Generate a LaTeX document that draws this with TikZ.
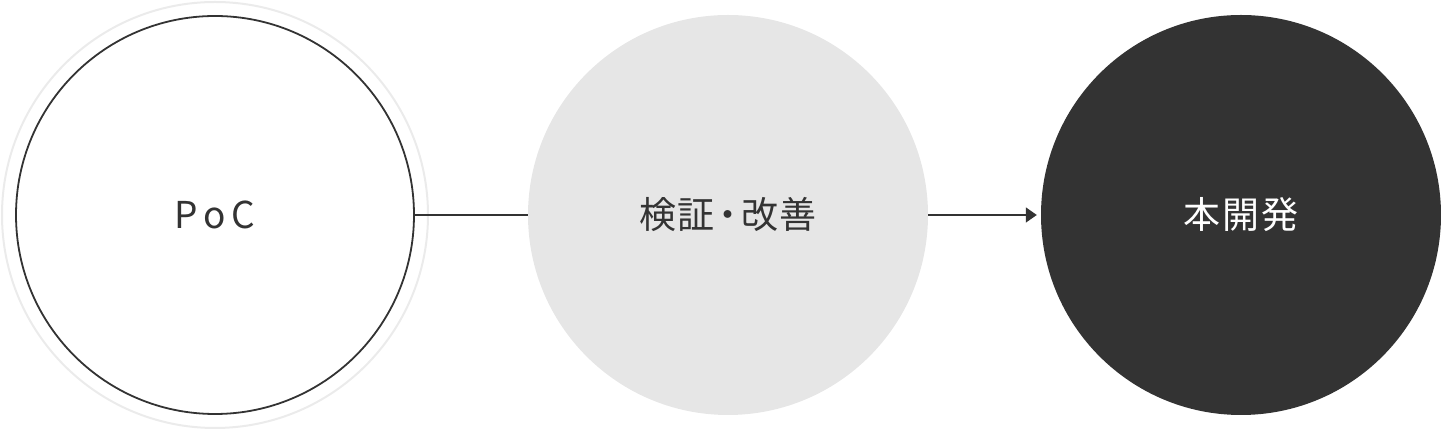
\documentclass[tikz,border=0pt]{standalone}
\usepackage{fontspec}
\setmainfont{Noto Sans CJK JP}
\usetikzlibrary{arrows.meta}
\definecolor{ink}{HTML}{333333}
\definecolor{ringgray}{HTML}{EBEBEB}
\definecolor{fillgray}{HTML}{E6E6E6}
\begin{document}
\begin{tikzpicture}[x=1pt,y=1pt,
  stage/.style={circle,inner sep=0pt,minimum size=400pt,font=\fontsize{37}{44}\selectfont\addfontfeature{LetterSpace=5}},
  link/.style={draw=ink,line width=1.5pt}]
\useasboundingbox (0,0) rectangle (1441,430);
\node[circle,draw=ringgray,line width=2pt,inner sep=0pt,minimum size=426pt] (ring) at (215,215) {};
\node[stage,draw=ink,line width=1.8pt,minimum size=398pt,text=ink,font=\fontsize{37}{44}\selectfont\addfontfeature{LetterSpace=16}] (poc) at (215,215) {PoC};
\node[stage,fill=fillgray,text=ink] (kensho) at (728,215) {検証\makebox[26pt]{・}改善};
\node[stage,fill=ink,text=white] (hon) at (1241,215) {本開発};
\draw[link] (poc.east) -- (kensho.west);
\draw[link,-{Triangle[length=11pt,width=15pt]},shorten >=4pt] (kensho.east) -- (hon.west);
\end{tikzpicture}
\end{document}
